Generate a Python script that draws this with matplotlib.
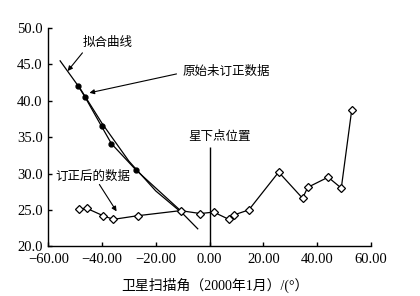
import matplotlib
matplotlib.use("Agg")
import matplotlib.pyplot as plt

plt.rcParams['font.family'] = ['Liberation Serif', 'Noto Sans CJK SC', 'DejaVu Sans']
plt.rcParams['axes.unicode_minus'] = True

# Corrected data (open diamonds)
corr_x = [-48.4, -45.6, -39.6, -35.8, -26.8, -10.8, -3.4, 1.5, 7.2, 9.0, 14.6, 25.7, 34.6, 36.5, 44.1, 49.0, 52.9]
corr_y = [25.1, 25.2, 24.2, 23.7, 24.2, 24.9, 24.5, 24.7, 23.7, 24.3, 25.0, 30.2, 26.6, 28.1, 29.5, 28.0, 38.8]

# Original uncorrected data (filled circles)
orig_x = [-48.8, -46.3, -40.2, -36.5, -27.4, -10.8]
orig_y = [42.0, 40.5, 36.5, 34.1, 30.5, 24.9]

# Fitted curve
fit_x = [-55.6, -48.0, -40.0, -30.0, -20.0, -10.0, -4.4]
fit_y = [45.5, 41.6, 36.9, 31.7, 27.6, 24.5, 22.4]

# Sub-satellite point
nadir_x = 0.0
nadir_top = 33.6

xticks = [-60, -40, -20, 0, 20, 40, 60]
xtick_labels = ["\u221260.00", "\u221240.00", "\u221220.00", "0.00", "20.00", "40.00", "60.00"]
yticks = [20, 25, 30, 35, 40, 45, 50]
ytick_labels = ["20.0", "25.0", "30.0", "35.0", "40.0", "45.0", "50.0"]

fig = plt.figure(figsize=(4.2, 2.96), dpi=100)
ax = fig.add_axes([0.115, 0.168, 0.768, 0.737])

ax.plot(fit_x, fit_y, color='black', lw=0.9)
ax.plot(orig_x, orig_y, color='black', lw=0.9, marker='o', ms=3.5)
ax.plot(corr_x, corr_y, color='black', lw=0.9, marker='D', ms=4.5,
        markerfacecolor='white', markeredgecolor='black', markeredgewidth=0.9)
ax.vlines(nadir_x, 20, nadir_top, color='black', lw=1.0)

ax.set_xlim(-60, 60)
ax.set_ylim(20, 50)
ax.set_xticks(xticks)
ax.set_xticklabels(xtick_labels)
ax.set_yticks(yticks)
ax.set_yticklabels(ytick_labels)
ax.tick_params(direction='in', length=3, width=1, labelsize=10.5, colors='black')
ax.tick_params(axis='x', pad=5)
ax.tick_params(axis='y', pad=4)
for s in ['top', 'right']:
    ax.spines[s].set_visible(False)
for s in ['left', 'bottom']:
    ax.spines[s].set_linewidth(1.0)

cjk = ['Noto Sans CJK SC']
ap = dict(arrowstyle='-|>', color='black', lw=0.8, mutation_scale=7, shrinkA=0, shrinkB=0)

ax.text(-47.3, 48.0, "拟合曲线", family=cjk, fontsize=9, va='center', ha='left')
ax.annotate("", xy=(-52.8, 44.1), xytext=(-47.3, 46.6), arrowprops=ap)

ax.text(-10.0, 44.0, "原始未订正数据", family=cjk, fontsize=9, va='center', ha='left')
ax.annotate("", xy=(-44.7, 41.1), xytext=(-12.3, 43.7), arrowprops=ap)

ax.text(3.7, 35.1, "星下点位置", family=cjk, fontsize=9, va='center', ha='center')

ax.text(-43.4, 29.6, "订正后的数据", family=cjk, fontsize=9, va='center', ha='center')
ax.annotate("", xy=(-34.6, 24.8), xytext=(-41.0, 28.5), arrowprops=ap)

fig.text(215 / 420, 1 - 285 / 296, "卫星扫描角（2000年1月）/(°）",
         family=['Liberation Serif', 'Noto Sans CJK SC'], fontsize=10, ha='center', va='center')

fig.savefig("out.png", dpi=100)
